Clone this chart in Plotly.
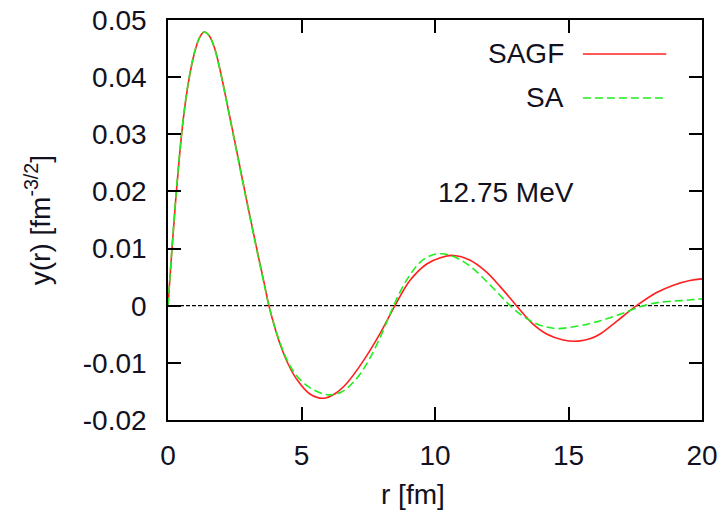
import plotly.graph_objects as go

# Radial wave functions y(r) at E = 12.75 MeV
r_sagf = [0, 0.15, 0.3, 0.45, 0.6, 0.8, 1.0, 1.2, 1.36, 1.55, 1.75, 2.0, 2.25,
          2.5, 3.0, 3.4, 3.6, 3.78, 4.0, 4.19, 4.5, 4.81, 5.3, 5.82, 6.25, 6.69,
          7.31, 7.94, 8.5, 9.06, 9.69, 10.2, 10.69, 11.3, 11.9, 12.45, 13.05,
          13.6, 14.2, 14.8, 15.37, 15.8, 16.2, 16.6, 17.05, 17.55, 18.3, 18.93,
          19.55, 20.0]
y_sagf = [0.0, 0.0100, 0.0192, 0.0272, 0.0337, 0.0400, 0.0444, 0.0471, 0.0479,
          0.0472, 0.0450, 0.0402, 0.0345, 0.0288, 0.0172, 0.0083, 0.0040, 0.0,
          -0.0038, -0.0066, -0.0102, -0.0128, -0.0154, -0.0162, -0.0154, -0.0136,
          -0.0097, -0.0049, 0.0, 0.0044, 0.0073, 0.0084, 0.0088, 0.0080, 0.0060,
          0.0033, 0.0, -0.0029, -0.0050, -0.0060, -0.0062, -0.0058, -0.0049,
          -0.0035, -0.0018, 0.0, 0.0023, 0.0036, 0.0044, 0.0047]

r_sa = [0, 0.15, 0.3, 0.45, 0.6, 0.8, 1.0, 1.2, 1.36, 1.55, 1.75, 2.0, 2.25, 2.5,
        3.0, 3.4, 3.6, 3.78, 4.0, 4.19, 4.5, 4.81, 5.3, 5.8, 6.07, 6.5, 7.0, 7.5,
        8.0, 8.45, 8.9, 9.4, 9.8, 10.25, 10.8, 11.4, 11.94, 12.4, 12.81, 13.2,
        13.56, 14.0, 14.56, 15.3, 15.9, 16.43, 17.1, 17.8, 18.4, 18.93, 19.5, 20.0]
y_sa = [0.0, 0.0102, 0.0194, 0.0274, 0.0339, 0.0402, 0.0445, 0.0471, 0.0479,
        0.0472, 0.0449, 0.0401, 0.0344, 0.0286, 0.0170, 0.0081, 0.0038, 0.0,
        -0.0037, -0.0064, -0.0099, -0.0122, -0.0143, -0.0154, -0.0156, -0.0151,
        -0.0131, -0.0097, -0.0050, 0.0, 0.0042, 0.0074, 0.0087, 0.0091, 0.0084,
        0.0066, 0.0042, 0.0020, 0.0, -0.0015, -0.0026, -0.0035, -0.0040, -0.0036,
        -0.0030, -0.0023, -0.0012, 0.0, 0.0006, 0.0008, 0.0010, 0.0012]

x_ticks = [0, 5, 10, 15, 20]
x_ticktext = ["0", "5", "10", "15", "20"]
y_ticks = [-0.02, -0.01, 0, 0.01, 0.02, 0.03, 0.04, 0.05]
y_ticktext = ["-0.02", "-0.01", "0", "0.01", "0.02", "0.03", "0.04", "0.05"]

series_names = ["SAGF", "SA"]
series_colors = ["#ff2020", "#20ee20"]
energy_label = "12.75 MeV"

FONT = "Liberation Sans, Arial, sans-serif"
TXT = "#111122"

fig = go.Figure()
fig.add_trace(go.Scatter(x=r_sagf, y=y_sagf, mode="lines", name=series_names[0],
                         line=dict(color=series_colors[0], width=1.6, shape="spline",
                                   smoothing=1.0),
                         showlegend=False))
fig.add_trace(go.Scatter(x=r_sa, y=y_sa, mode="lines", name=series_names[1],
                         line=dict(color=series_colors[1], width=1.6, shape="spline",
                                   smoothing=1.0, dash="8px,4px"),
                         showlegend=False))

# dashed zero reference line
fig.add_shape(type="line", xref="x", yref="y", x0=x_ticks[0], x1=x_ticks[-1], y0=0, y1=0,
              line=dict(color="black", width=1.2, dash="4px,2px"), layer="below")

# key: right-aligned labels followed by line samples
key_rows = [0.915, 0.805]
for name, color, yk, dash in zip(series_names, series_colors, key_rows, ["solid", "8px,4px"]):
    fig.add_annotation(xref="paper", yref="paper", x=0.745, y=yk, text=name,
                       showarrow=False, xanchor="right", yanchor="middle",
                       font=dict(family=FONT, size=28, color=TXT))
    fig.add_shape(type="line", xref="paper", yref="paper", x0=0.777, x1=0.933,
                  y0=yk, y1=yk, line=dict(color=color, width=1.6, dash=dash))

fig.add_annotation(xref="paper", yref="paper", x=0.633, y=0.57, text=energy_label,
                   showarrow=False, xanchor="center", yanchor="middle",
                   font=dict(family=FONT, size=28, color=TXT))

# axis titles
fig.add_annotation(xref="paper", yref="paper", x=0.458, y=-0.185, text="r [fm]",
                   showarrow=False, xanchor="center", yanchor="middle",
                   font=dict(family=FONT, size=28, color=TXT))
fig.add_annotation(xref="paper", yref="paper", x=-0.243, y=0.5,
                   text="y(r) [fm<sup>-3/2</sup>]", textangle=-90,
                   showarrow=False, xanchor="center", yanchor="middle",
                   font=dict(family=FONT, size=28, color=TXT))

axis_common = dict(showline=True, linecolor="black", linewidth=1.6, mirror="allticks",
                   ticks="inside", ticklen=13, tickwidth=1.5, tickcolor="black",
                   showgrid=False, zeroline=False, automargin=False,
                   tickfont=dict(family=FONT, size=28, color=TXT))

fig.update_xaxes(range=[0, 20], tickmode="array", tickvals=x_ticks, ticktext=x_ticktext,
                 ticklabelstandoff=10, **axis_common)
fig.update_yaxes(range=[-0.02, 0.05], tickmode="array", tickvals=y_ticks,
                 ticktext=y_ticktext, ticklabelstandoff=14, **axis_common)

fig.update_layout(width=723, height=510,
                  margin=dict(l=168, r=21, t=20, b=90, autoexpand=False),
                  plot_bgcolor="white", paper_bgcolor="white",
                  font=dict(family=FONT, size=28, color=TXT))

fig.write_html("out.html")
